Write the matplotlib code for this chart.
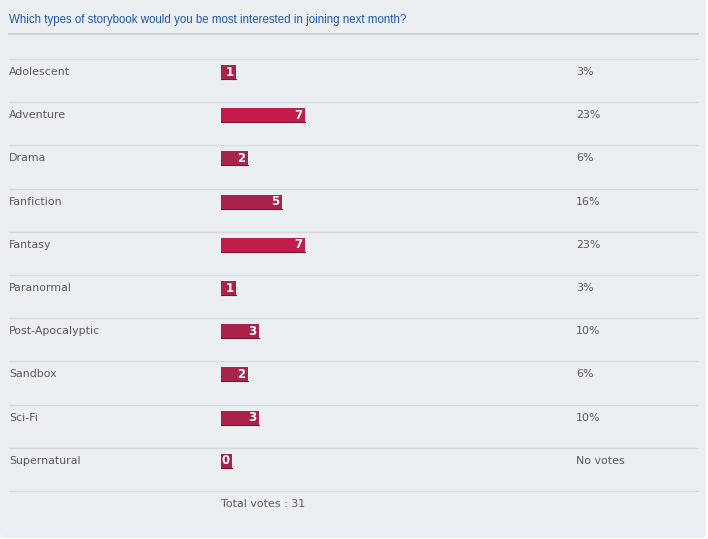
import matplotlib.pyplot as plt
from matplotlib.patches import FancyBboxPatch

title = 'Which types of storybook would you be most interested in joining next month?'
categories = ['Adolescent', 'Adventure', 'Drama', 'Fanfiction', 'Fantasy',
              'Paranormal', 'Post-Apocalyptic', 'Sandbox', 'Sci-Fi', 'Supernatural']
votes = [1, 7, 2, 5, 7, 1, 3, 2, 3, 0]
pct_labels = ['3%', '23%', '6%', '16%', '23%', '3%', '10%', '6%', '10%', 'No votes']
bar_colors = ['#a8234a', '#c21c4a', '#a8234a', '#a8234a', '#c21c4a',
              '#a8234a', '#a8234a', '#a8234a', '#a8234a', '#a8234a']
total_label = 'Total votes : 31'

W, H = 708, 539
bg = '#ebeff2'
txt = '#5a5a5a'
sep = '#d6dbdf'

fig = plt.figure(figsize=(W / 100, H / 100), dpi=100)
fig.patch.set_facecolor('white')

# pixel-space canvas for text and rules
ax = fig.add_axes([0, 0, 1, 1])
ax.set_xlim(0, W)
ax.set_ylim(H, 0)
ax.axis('off')
ax.add_patch(FancyBboxPatch((0, -5), 706, H + 4, boxstyle='round,pad=0,rounding_size=5',
                            fc=bg, ec='none'))

ax.text(9, 20, title, color='#1f57ad', fontsize=8.3, family='Liberation Sans',
        va='center', ha='left')
ax.plot([9, 698], [34, 34], color='#c9cdd0', lw=1.2)

top, step = 59, 43.2
n = len(categories)
for i in range(n + 1):
    y = top + i * step
    ax.plot([9, 698], [y, y], color=sep, lw=1)
for i, (cat, p) in enumerate(zip(categories, pct_labels)):
    y = top + i * step + 13
    ax.text(9, y, cat, color=txt, fontsize=7.9, va='center', ha='left')
    ax.text(576, y, p, color=txt, fontsize=7.9, va='center', ha='left')
ax.text(221, top + n * step + 13, total_label, color=txt, fontsize=7.9,
        va='center', ha='left')

# bars axes: 1 vote = 11.5 px
px = 11.5
bx = fig.add_axes([221 / W, 1 - (top + n * step) / H, 10 * px / W, n * step / H])
bx.set_xlim(0, 10)
bx.set_ylim(n, 0)
bx.axis('off')
centers = [i + 13 / step for i in range(n)]
widths = [max(v + 3.5 / px, 11 / px) for v in votes]
bx.barh(centers, widths, height=14 / step, color=bar_colors, align='center',
        edgecolor='none')
for c, w, v in zip(centers, widths, votes):
    bx.plot([0, w], [c + 7 / step, c + 7 / step], color='#7d1532', lw=0.8)
    bx.text(w - 2.5 / px, c, str(v), color='white', fontsize=8.5, fontweight='bold',
            va='center', ha='right')

fig.savefig('out.png', dpi=100, facecolor=fig.get_facecolor())
